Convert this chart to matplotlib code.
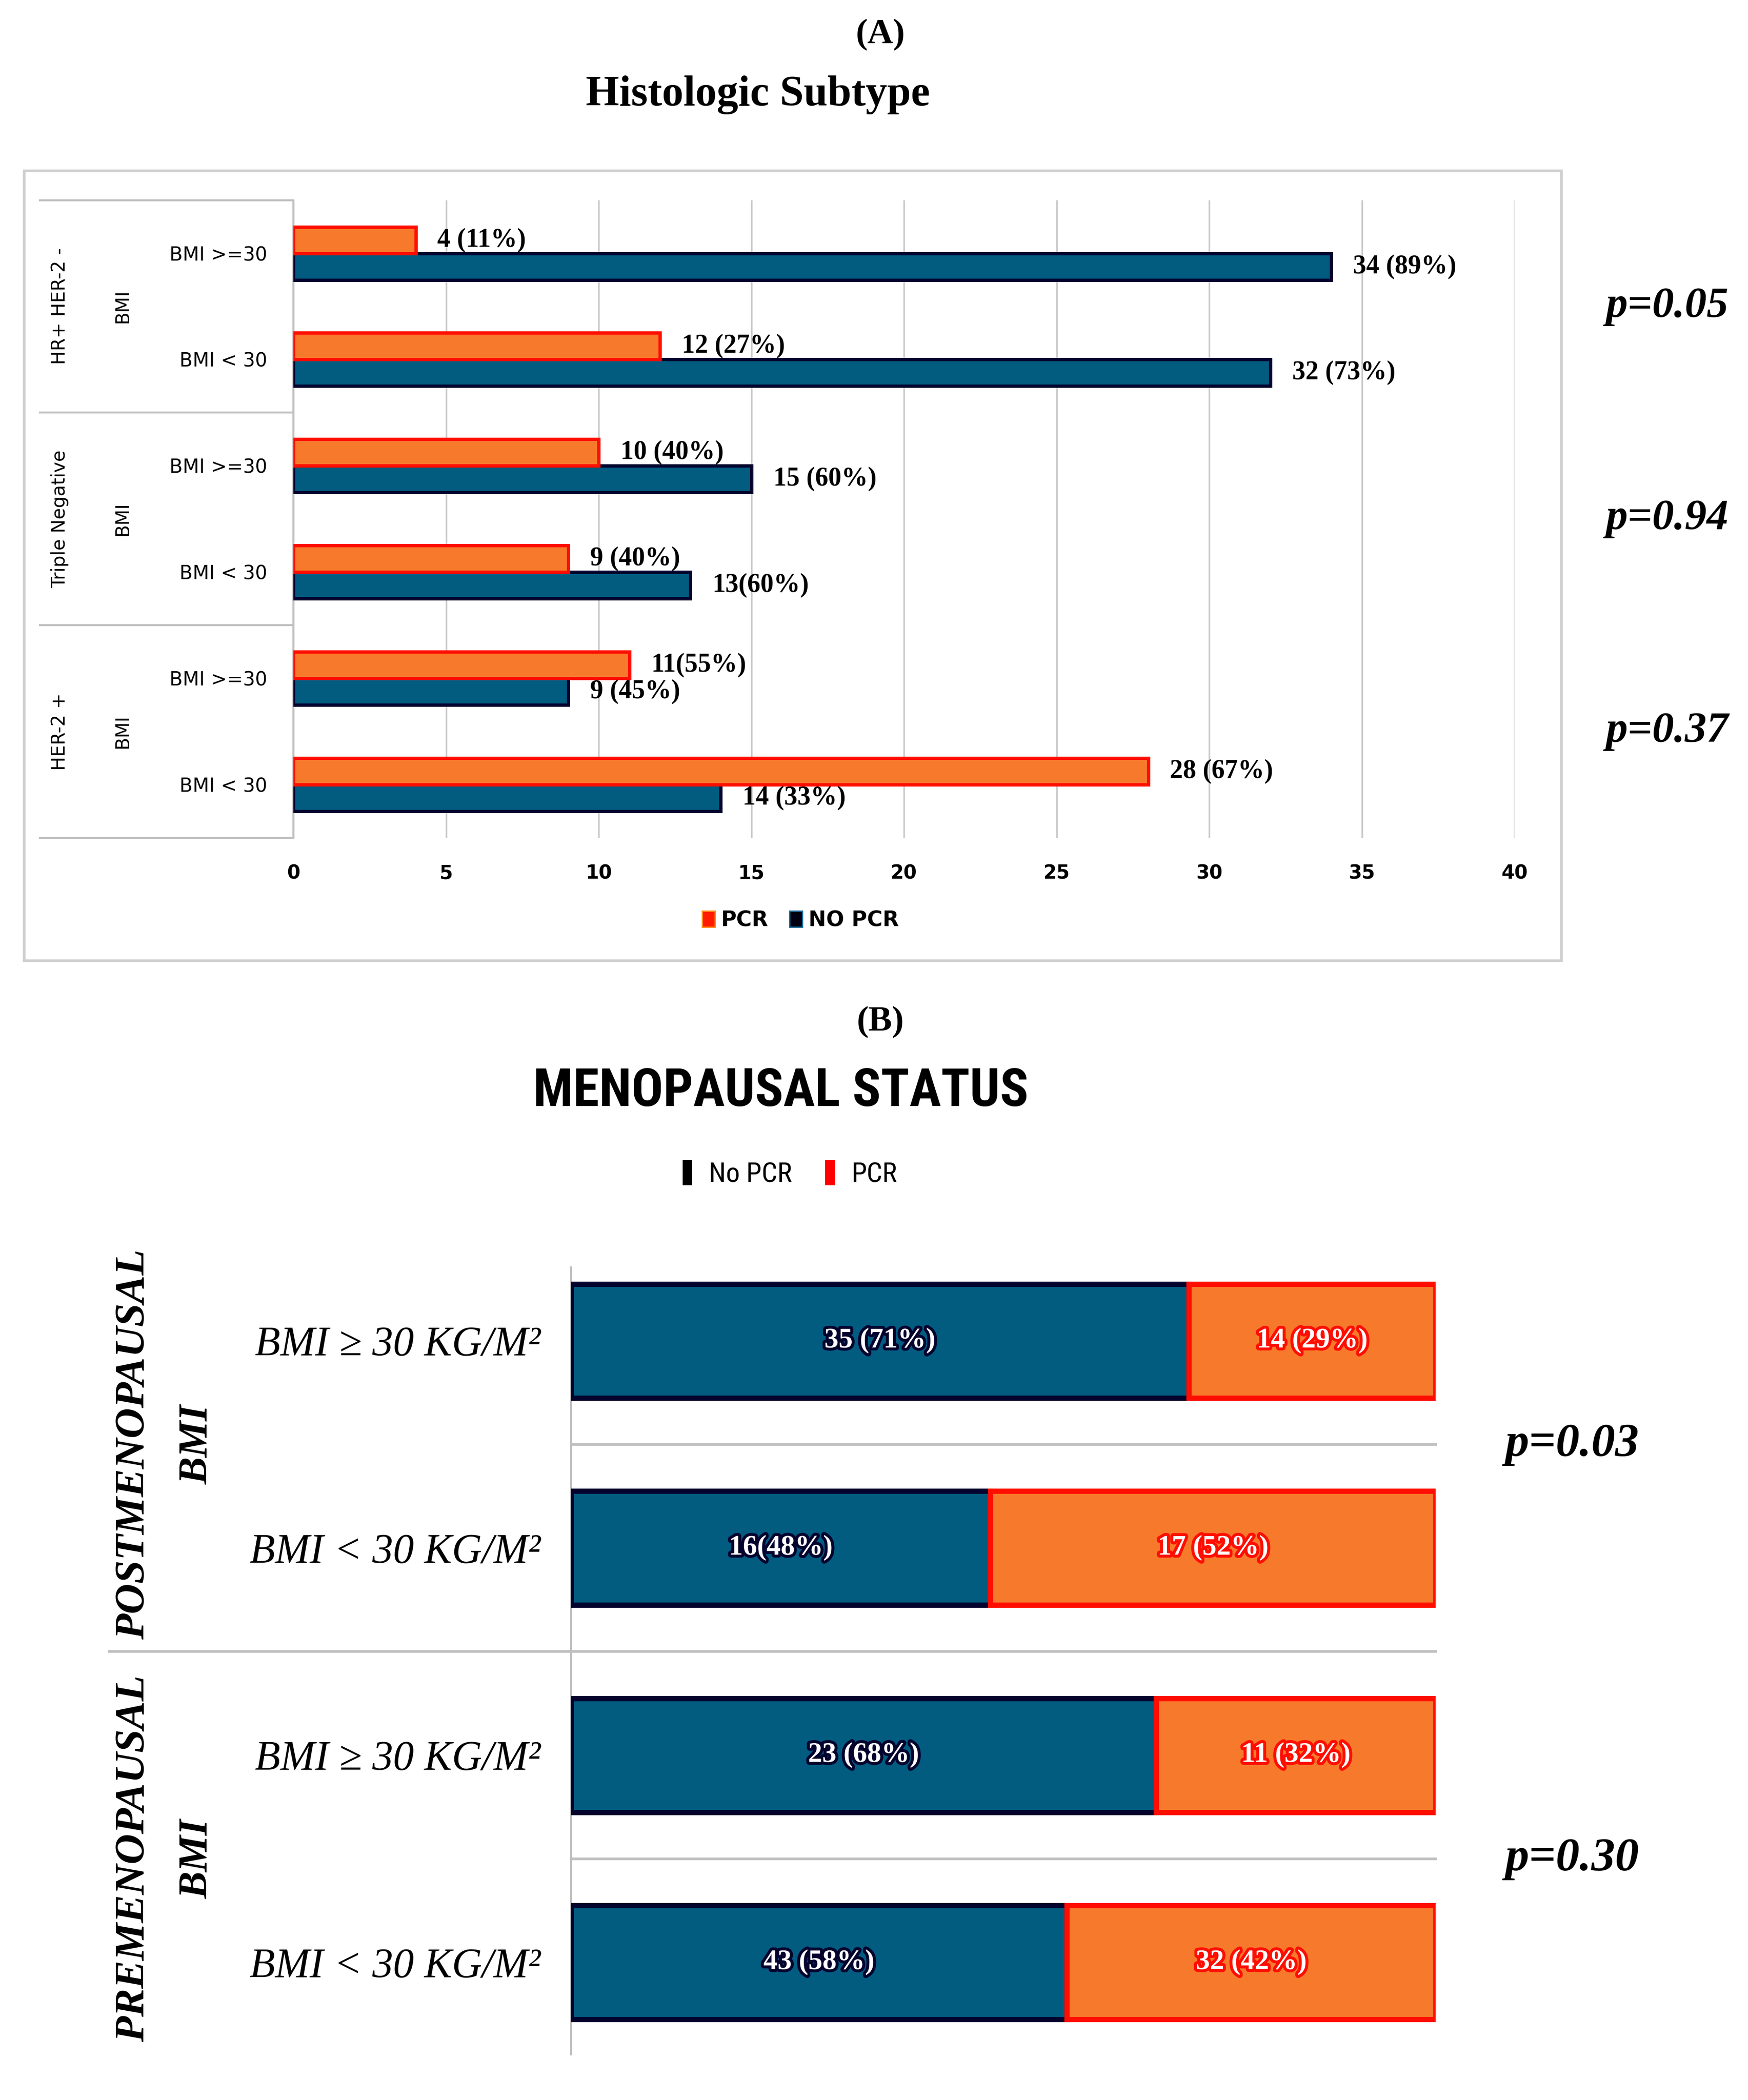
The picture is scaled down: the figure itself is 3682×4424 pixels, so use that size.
import numpy as np
import matplotlib.pyplot as plt
from matplotlib.patches import Patch, Rectangle
from matplotlib import patheffects as pe

# (A) histologic subtype, rows from top to bottom
rows_a = ['BMI >=30', 'BMI < 30', 'BMI >=30', 'BMI < 30', 'BMI >=30', 'BMI < 30']
groups_a = ['HR+ HER-2 -', 'Triple Negative', 'HER-2 +']
pcr_a = [4, 12, 10, 9, 11, 28]
nopcr_a = [34, 32, 15, 13, 9, 14]
pcr_a_lbl = ['4 (11%)', '12 (27%)', '10 (40%)', '9 (40%)', '11(55%)', '28 (67%)']
nopcr_a_lbl = ['34 (89%)', '32 (73%)', '15 (60%)', '13(60%)', '9 (45%)', '14 (33%)']
p_a = ['p=0.05', 'p=0.94', 'p=0.37']

# (B) menopausal status, rows from top to bottom
rows_b = ['BMI ≥ 30 KG/M²', 'BMI < 30 KG/M²', 'BMI ≥ 30 KG/M²', 'BMI < 30 KG/M²']
groups_b = ['POSTMENOPAUSAL', 'PREMENOPAUSAL']
nopcr_b = [35, 16, 23, 43]
pcr_b = [14, 17, 11, 32]
nopcr_b_lbl = ['35 (71%)', '16(48%)', '23 (68%)', '43 (58%)']
pcr_b_lbl = ['14 (29%)', '17 (52%)', '11 (32%)', '32 (42%)']
p_b = ['p=0.03', 'p=0.30']

ORANGE = '#F77A2C'
RED = '#FF0D00'
BLUE = '#015C80'
NAVY = '#03032E'
GRID = '#C9C9C9'
LINE = '#BFBFBF'
SERIF = ['Liberation Serif', 'DejaVu Serif']
NARROW = ['Roboto Condensed', 'Open Sans Condensed', 'Liberation Sans Narrow', 'Liberation Sans']

# layout measured on a 1310 x 1574 view of the figure
W, H = 1310, 1574
def fx(x):
    return x / W
def fy(y):
    return 1 - y / H

plt.rcParams['font.family'] = ['DejaVu Sans']
fig = plt.figure(figsize=(36.82, 44.24), dpi=100)

# ---------------- panel A ----------------
fig.add_artist(Rectangle((fx(18), fy(720)), fx(1170) - fx(18), fy(128) - fy(720),
                         transform=fig.transFigure, fill=False, edgecolor='#CFCFCF', lw=4))
fig.text(fx(660), fy(26), '(A)', ha='center', va='center', family=SERIF, weight='bold', size=54)
fig.text(fx(568), fy(71), 'Histologic Subtype', ha='center', va='center', family=SERIF,
         weight='bold', size=65)

axA = fig.add_axes([fx(220), fy(628), fx(1135) - fx(220), fy(150) - fy(628)])
y = np.arange(len(rows_a))
axA.barh(y + 0.125, nopcr_a, height=0.25, color=BLUE, edgecolor=NAVY, lw=5, zorder=3)
axA.barh(y - 0.125, pcr_a, height=0.25, color=ORANGE, edgecolor=RED, lw=5, zorder=3)
axA.set_xlim(0, 40)
axA.set_ylim(len(rows_a) - 0.5, -0.5)
axA.set_xticks(range(0, 41, 5))
axA.grid(axis='x', color=GRID, lw=2.5, zorder=0)
for s in ['top', 'right', 'bottom']:
    axA.spines[s].set_visible(False)
axA.spines['left'].set_color(LINE)
axA.spines['left'].set_linewidth(3)
axA.tick_params(axis='x', length=0, pad=40, labelsize=29)
for t in axA.get_xticklabels():
    t.set_fontweight('bold')
axA.set_yticks(y)
axA.set_yticklabels(rows_a, fontsize=29)
axA.tick_params(axis='y', length=0, pad=40)

for i in range(len(rows_a)):
    axA.annotate(pcr_a_lbl[i], (pcr_a[i], i - 0.125), xytext=(33, 0), textcoords='offset points',
                 ha='left', va='center', family=SERIF, weight='bold', size=40)
    axA.annotate(nopcr_a_lbl[i], (nopcr_a[i], i + 0.125), xytext=(33, 0), textcoords='offset points',
                 ha='left', va='center', family=SERIF, weight='bold', size=40)

tr = axA.get_yaxis_transform()
for yy in np.arange(0, len(rows_a) + 1, 2) - 0.5:
    axA.plot([-0.2077, 0], [yy, yy], transform=tr, color=LINE, lw=3, clip_on=False)
for g, name in enumerate(groups_a):
    axA.text(-0.1913, 2 * g + 0.5, name, transform=tr, rotation=90, ha='center', va='center', size=28)
    axA.text(-0.1399, 2 * g + 0.5, 'BMI', transform=tr, rotation=90, ha='center', va='center', size=28)
    axA.text(1.075, 2 * g + 0.5, p_a[g], transform=tr, ha='left', va='center', family=SERIF,
             weight='bold', style='italic', size=66)

fig.legend([Patch(facecolor='#FF1A00', edgecolor='#FF8C1A', lw=2),
            Patch(facecolor='#000010', edgecolor='#1E6FA0', lw=2)],
           ['PCR', 'NO PCR'], loc='center', bbox_to_anchor=(fx(600), fy(690)), ncol=2,
           frameon=False, prop={'weight': 'bold', 'size': 32}, handlelength=0.6,
           handleheight=0.8, handletextpad=0.3, columnspacing=1.0)

# ---------------- panel B ----------------
fig.text(fx(660), fy(766), '(B)', ha='center', va='center', family=SERIF, weight='bold', size=54)
fig.text(fx(585), fy(818), 'MENOPAUSAL STATUS', ha='center', va='center', family=NARROW,
         weight='bold', size=80)
fig.legend([Patch(facecolor='black'), Patch(facecolor='#FF0000')], ['No PCR', 'PCR'],
           loc='center', bbox_to_anchor=(fx(592), fy(880)), ncol=2, frameon=False,
           prop={'family': NARROW, 'size': 42}, handlelength=0.35, handleheight=1.0,
           handletextpad=0.6, columnspacing=1.2)

axB = fig.add_axes([fx(428), fy(1540), fx(1076) - fx(428), fy(950) - fy(1540)])
no_b = np.array(nopcr_b, dtype=float)
pc_b = np.array(pcr_b, dtype=float)
share_no = no_b / (no_b + pc_b)
share_pc = pc_b / (no_b + pc_b)
yb = np.arange(len(rows_b))
axB.barh(yb, share_no, height=0.55, color=BLUE, edgecolor=NAVY, lw=8, zorder=3)
axB.barh(yb, share_pc, left=share_no, height=0.55, color=ORANGE, edgecolor=RED, lw=8, zorder=3)
axB.set_xlim(0, 1)
axB.set_ylim(3.445, -0.354)
axB.set_xticks([])
for s in ['top', 'right', 'bottom']:
    axB.spines[s].set_visible(False)
axB.spines['left'].set_color(LINE)
axB.spines['left'].set_linewidth(3)
axB.set_yticks(yb)
axB.set_yticklabels(rows_b, family=SERIF, style='italic', size=63)
axB.tick_params(axis='y', length=0, pad=46)

trb = axB.get_yaxis_transform()
for yy in [0.5, 2.5]:
    axB.plot([0, 1], [yy, yy], transform=trb, color=LINE, lw=4, clip_on=False, zorder=1)
axB.plot([-0.534, 1], [1.5, 1.5], transform=trb, color=LINE, lw=4, clip_on=False, zorder=1)

for i in range(len(rows_b)):
    axB.text(share_no[i] / 2, i, nopcr_b_lbl[i], ha='center', va='center', color='white',
             family=SERIF, weight='bold', size=43, zorder=5,
             path_effects=[pe.withStroke(linewidth=9, foreground=NAVY)])
    axB.text(share_no[i] + share_pc[i] / 2, i, pcr_b_lbl[i], ha='center', va='center', color='white',
             family=SERIF, weight='bold', size=43, zorder=5,
             path_effects=[pe.withStroke(linewidth=9, foreground=RED)])

for g, name in enumerate(groups_b):
    axB.text(-0.506, 2 * g + 0.5, name, transform=trb, rotation=90, ha='center', va='center',
             family=SERIF, weight='bold', style='italic', size=64)
    axB.text(-0.432, 2 * g + 0.5, 'BMI', transform=trb, rotation=90, ha='center', va='center',
             family=SERIF, weight='bold', style='italic', size=62)
    axB.text(1.0802, 2 * g + 0.5, p_b[g], transform=trb, ha='left', va='center', family=SERIF,
             weight='bold', style='italic', size=72)

fig.savefig('out.png', dpi=100, facecolor='white')
